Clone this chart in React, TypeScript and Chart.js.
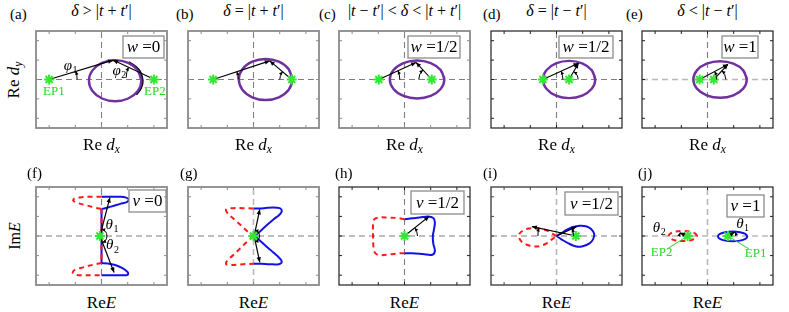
import React, { useEffect, useRef } from 'react';
import { Chart, registerables } from 'chart.js';

Chart.register(...registerables);

type P = [number, number];

// ---------------- shared axis data ----------------
const axisMin = -1.25;
const axisMax = 1.25;
const tickValues = [-1, -0.5, 0, 0.5, 1];

// ---------------- texts ----------------
const topLetters = ['(a)', '(b)', '(c)', '(d)', '(e)'];
const bottomLetters = ['(f)', '(g)', '(h)', '(i)', '(j)'];
const topTitles = ['δ > |t + t′|', 'δ = |t + t′|', '|t − t′| < δ < |t + t′|', 'δ = |t − t′|', 'δ < |t − t′|'];
const topTagSymbol = 'w';
const bottomTagSymbol = 'ν';
const topTagValues = ['0', '', '1/2', '1/2', '1'];
const bottomTagValues = ['0', '', '1/2', '1/2', '1'];

// ---------------- top row: Re d_x / Re d_y plane ----------------
const epLeft: P[] = [[-1, 0], [-0.77, 0], [-0.49, 0], [-0.26, 0], [-0.15, 0]];
const epRight: P[] = [[1, 0], [0.73, 0], [0.52, 0], [0.24, 0], [0.12, 0]];
const apexPts: P[] = [[0.22, 0.5], [0.31, 0.48], [0.22, 0.44], [0.42, 0.42], [0.39, 0.39]];
const rightArmStart: P[] = [[0.93, 0.05], [0.73, 0], [0.52, 0], [0.24, 0], [0.12, 0]];
const ellipseA: P[] = [[0.76, -0.03], [0.693, 0.235], [0.51, 0.429], [0.26, 0.5], [0.01, 0.429], [-0.173, 0.235], [-0.24, -0.03], [-0.173, -0.295], [0.01, -0.489], [0.26, -0.56], [0.51, -0.489], [0.693, -0.295]];
const ellipseB: P[] = [[0.74, 0], [0.672, 0.265], [0.485, 0.459], [0.23, 0.53], [-0.025, 0.459], [-0.212, 0.265], [-0.28, 0], [-0.212, -0.265], [-0.025, -0.459], [0.23, -0.53], [0.485, -0.459], [0.672, -0.265]];
const ellipseC: P[] = [[0.76, 0], [0.69, 0.245], [0.5, 0.424], [0.24, 0.49], [-0.02, 0.424], [-0.21, 0.245], [-0.28, 0], [-0.21, -0.245], [-0.02, -0.424], [0.24, -0.49], [0.5, -0.424], [0.69, -0.245]];
const ellipseD: P[] = [[0.74, 0], [0.673, 0.24], [0.49, 0.416], [0.24, 0.48], [-0.01, 0.416], [-0.193, 0.24], [-0.26, 0], [-0.193, -0.24], [-0.01, -0.416], [0.24, -0.48], [0.49, -0.416], [0.673, -0.24]];
const ellipseE: P[] = [[0.75, 0], [0.682, 0.235], [0.495, 0.407], [0.24, 0.47], [-0.015, 0.407], [-0.202, 0.235], [-0.27, 0], [-0.202, -0.235], [-0.015, -0.407], [0.24, -0.47], [0.495, -0.407], [0.682, -0.235]];
const trajectoryA: P[] = [[0.52, 0.446], [0.71, 0.245], [0.78, -0.03], [0.749, -0.218], [0.658, -0.384]];
const phiLabelsA: P[] = [[-0.59, 0.34], [0.34, 0.22]];
const epLabelsA: P[] = [[-0.91, -0.31], [1.02, -0.31]];

// ---------------- bottom row: Re E / Im E plane ----------------
const fBlueUpper: P[] = [[0, 1.0], [0.2, 1.0], [0.36, 1.0], [0.47, 0.98], [0.52, 0.93], [0.49, 0.87], [0.36, 0.82], [0.18, 0.75], [0.05, 0.7], [0, 0.69]];
const fBlueLower: P[] = [[0, -0.69], [0.12, -0.7], [0.26, -0.74], [0.4, -0.82], [0.5, -0.92], [0.5, -0.99], [0.35, -1.0], [0.15, -1.0], [0, -1.0]];
const fRedUpper: P[] = [[0, 1.0], [-0.2, 1.0], [-0.38, 0.99], [-0.52, 0.95], [-0.54, 0.9], [-0.45, 0.84], [-0.28, 0.78], [-0.12, 0.72], [0, 0.69]];
const fRedLower: P[] = [[0, -0.69], [-0.15, -0.73], [-0.35, -0.8], [-0.5, -0.86], [-0.55, -0.93], [-0.5, -0.99], [-0.3, -1.0], [-0.12, -1.0], [0, -1.0]];
const fStem: P[] = [[0, 0.69], [0, -0.69]];
const fEP: P[] = [[-0.03, 0]];
const fArrowTips: P[] = [[0.16, 0.98], [0.24, -0.93]];
const fThetaLabels: P[] = [[0.2, 0.28], [0.21, -0.24]];

const gBlueUpper: P[] = [[0, 0.7], [0.2, 0.71], [0.38, 0.73], [0.5, 0.71], [0.54, 0.64], [0.5, 0.55], [0.38, 0.42], [0.24, 0.26], [0.1, 0.09], [0.02, 0]];
const gBlueLower: P[] = [[0.02, 0], [0.1, -0.09], [0.24, -0.26], [0.38, -0.42], [0.5, -0.57], [0.54, -0.66], [0.48, -0.72], [0.3, -0.72], [0.15, -0.71], [0, -0.71]];
const gRedUpper: P[] = [[0, 0.7], [-0.2, 0.71], [-0.4, 0.71], [-0.52, 0.68], [-0.5, 0.59], [-0.38, 0.44], [-0.22, 0.25], [-0.1, 0.1], [0, 0]];
const gRedLower: P[] = [[0, 0], [-0.1, -0.12], [-0.24, -0.3], [-0.38, -0.48], [-0.5, -0.63], [-0.52, -0.72], [-0.42, -0.74], [-0.2, -0.72], [0, -0.71]];
const gEP: P[] = [[0, 0]];
const gArrowBases: P[] = [[0.02, 0.05], [0.02, -0.05]];
const gArrowTips: P[] = [[0.12, 0.68], [0.12, -0.67]];

const hBlue: P[] = [[0, 0.43], [0.15, 0.45], [0.29, 0.47], [0.45, 0.5], [0.55, 0.46], [0.58, 0.35], [0.56, 0.15], [0.54, 0], [0.55, -0.2], [0.58, -0.38], [0.53, -0.48], [0.35, -0.46], [0.15, -0.44], [0, -0.44]];
const hRed: P[] = [[0, 0.43], [-0.15, 0.46], [-0.32, 0.47], [-0.5, 0.47], [-0.58, 0.42], [-0.6, 0.29], [-0.6, 0.0], [-0.59, -0.3], [-0.55, -0.45], [-0.45, -0.49], [-0.28, -0.47], [-0.1, -0.44], [0, -0.44]];
const hEP: P[] = [[0, 0]];
const hArrowTip: P = [0.47, 0.5];

const iBlue: P[] = [[0, 0], [0.1, 0.08], [0.2, 0.16], [0.32, 0.23], [0.44, 0.26], [0.56, 0.25], [0.66, 0.18], [0.72, 0.05], [0.7, -0.08], [0.63, -0.19], [0.5, -0.26], [0.38, -0.27], [0.23, -0.19], [0.1, -0.09], [0, 0]];
const iRed: P[] = [[0, 0], [-0.08, 0.06], [-0.17, 0.13], [-0.28, 0.18], [-0.4, 0.2], [-0.53, 0.19], [-0.64, 0.14], [-0.71, 0.05], [-0.72, -0.03], [-0.66, -0.15], [-0.55, -0.23], [-0.43, -0.27], [-0.3, -0.25], [-0.18, -0.18], [-0.08, -0.08], [0, 0]];
const iEP: P[] = [[0.37, 0]];
const iArrowBases: P[] = [[0.37, 0], [0, 0]];
const iArrowTips: P[] = [[-0.47, 0.24], [0.38, 0.24]];

const jBlue: P[] = [[0.76, -0.01], [0.722, 0.053], [0.62, 0.098], [0.48, 0.115], [0.34, 0.098], [0.238, 0.053], [0.2, -0.01], [0.238, -0.073], [0.34, -0.118], [0.48, -0.135], [0.62, -0.118], [0.722, -0.073]];
const jRed: P[] = [[-0.2, 0], [-0.236, 0.065], [-0.335, 0.113], [-0.47, 0.13], [-0.605, 0.113], [-0.704, 0.065], [-0.74, 0], [-0.704, -0.065], [-0.605, -0.113], [-0.47, -0.13], [-0.335, -0.113], [-0.236, -0.065]];
const jEPs: P[] = [[0.39, 0], [-0.38, 0]];
const jArrowTips: P[] = [[0.52, 0.1], [-0.53, 0.08]];
const jPointerEnds: P[] = [[0.79, -0.33], [-0.77, -0.33]];
const jThetaLabels: P[] = [[0.67, 0.3], [-0.92, 0.2]];
const jEpLabels: P[] = [[0.92, -0.46], [-0.875, -0.42]];

// ---------------- styles / layout ----------------
const serif = '"Liberation Serif", "DejaVu Serif", "Times New Roman", serif';
const PURPLE = '#7030a0';
const BLUE = '#1212e6';
const RED = '#ff1a1a';
const GREEN = '#33e833';
const GRAY = '#7f7f7f';
const LIGHT = '#b9b9b9';
const FRAME_GRAY = '#8a8a8a';
const FRAME_DARK = '#202020';

const boxLefts = [32, 184, 335, 487, 638];
const boxW = 139;
const topRowY = 27;
const topRowH = 105;
const bottomRowY = 183;
const bottomRowH = 106;
const PAD = 3;

interface Series { pts: P[]; color: string; width: number; dash?: number[]; tension?: number; arrow?: boolean; star?: boolean }
interface Note { at: P; text: string; sub?: string; color?: string; size?: number; upright?: boolean }
interface AngleMark { c: P; ref: number; to: P; r: number }
interface Tag { sym: string; value: string; right: number; top: number; w: number; h: number }
interface PanelCfg {
  left: number; top: number; w: number; h: number;
  frame: string; frameW: number;
  zeroH: string; zeroV: string; zeroHW: number; zeroVW: number;
  series: Series[]; notes: Note[]; angles: AngleMark[]; tag?: Tag;
}

const loop = (pts: P[]): P[] => [...pts, pts[0], pts[1]];

const topEllipses = [ellipseA, ellipseB, ellipseC, ellipseD, ellipseE];
const phiRadii: [number, number][] = [[28, 24], [25, 12], [21, 13], [20, 9], [17, 12]];
const phiRef2 = [180, 180, 180, 0, 0];
const topFrames = [FRAME_GRAY, FRAME_GRAY, FRAME_GRAY, FRAME_DARK, FRAME_DARK];
const topZeroH = [GRAY, GRAY, GRAY, GRAY, LIGHT];
const topTagGeom = [
  { right: 3, top: 5, w: 41, h: 22 }, null,
  { right: 10, top: 5, w: 52, h: 22 },
  { right: 9, top: 5, w: 54, h: 22 },
  { right: 15, top: 5, w: 36, h: 22 },
];

const topPanels: PanelCfg[] = topEllipses.map((ell, i) => {
  const series: Series[] = [];
  if (i === 0) series.push({ pts: trajectoryA, color: '#000', width: 2.6, tension: 0.4 });
  series.push({ pts: loop(ell), color: PURPLE, width: 2.4, tension: 0.4 });
  series.push({ pts: [epLeft[i], apexPts[i]], color: '#000', width: 1.1, arrow: true });
  series.push({ pts: [rightArmStart[i], apexPts[i]], color: '#000', width: 1.1, arrow: true });
  series.push({ pts: [epLeft[i], epRight[i]], color: GREEN, width: 2, star: true });
  const notes: Note[] = [];
  if (i === 0) {
    notes.push({ at: phiLabelsA[0], text: 'φ', sub: '1', size: 15 });
    notes.push({ at: phiLabelsA[1], text: 'φ', sub: '2', size: 15 });
    notes.push({ at: epLabelsA[0], text: 'EP1', color: '#22d822', size: 13, upright: true });
    notes.push({ at: epLabelsA[1], text: 'EP2', color: '#22d822', size: 13, upright: true });
  }
  const g = topTagGeom[i];
  return {
    left: boxLefts[i], top: topRowY, w: boxW, h: topRowH,
    frame: topFrames[i], frameW: i < 3 ? 1.8 : 1.2,
    zeroH: topZeroH[i], zeroV: GRAY, zeroHW: topZeroH[i] === LIGHT ? 1.6 : 1.1, zeroVW: 1.1,
    series, notes,
    angles: [
      { c: epLeft[i], ref: 0, to: apexPts[i], r: phiRadii[i][0] },
      { c: rightArmStart[i], ref: phiRef2[i], to: apexPts[i], r: phiRadii[i][1] },
    ],
    tag: g ? { sym: topTagSymbol, value: topTagValues[i], ...g } : undefined,
  };
});

const blueS = (pts: P[], tension = 0.35): Series => ({ pts, color: BLUE, width: 2, tension });
const redS = (pts: P[], tension = 0.35): Series => ({ pts, color: RED, width: 2, dash: [5, 4], tension });
const arrowS = (a: P, b: P): Series => ({ pts: [a, b], color: '#000', width: 1.2, arrow: true });
const starS = (pts: P[]): Series => ({ pts, color: GREEN, width: 2, star: true });

const bottomPanels: PanelCfg[] = [
  {
    left: boxLefts[0], top: bottomRowY, w: boxW, h: bottomRowH, frame: FRAME_GRAY, frameW: 1.8,
    zeroH: GRAY, zeroV: GRAY, zeroHW: 1.1, zeroVW: 1.1,
    series: [blueS(fBlueUpper), blueS(fBlueLower), blueS(fStem, 0), redS(fRedUpper), redS(fRedLower), redS(fStem, 0),
      arrowS(fEP[0], fArrowTips[0]), arrowS(fEP[0], fArrowTips[1]), starS(fEP)],
    notes: [{ at: fThetaLabels[0], text: 'θ', sub: '1' }, { at: fThetaLabels[1], text: 'θ', sub: '2' }],
    angles: [{ c: fEP[0], ref: 0, to: fArrowTips[0], r: 7 }, { c: fEP[0], ref: 0, to: fArrowTips[1], r: 7 }],
    tag: { sym: bottomTagSymbol, value: bottomTagValues[0], right: 1, top: 3, w: 37, h: 22 },
  },
  {
    left: boxLefts[1], top: bottomRowY, w: boxW, h: bottomRowH, frame: FRAME_GRAY, frameW: 1.8,
    zeroH: GRAY, zeroV: LIGHT, zeroHW: 1.1, zeroVW: 1.6,
    series: [blueS(gBlueUpper), blueS(gBlueLower), redS(gRedUpper), redS(gRedLower),
      arrowS(gArrowBases[0], gArrowTips[0]), arrowS(gArrowBases[1], gArrowTips[1]), starS(gEP)],
    notes: [],
    angles: [{ c: gEP[0], ref: 0, to: gArrowTips[0], r: 6 }, { c: gEP[0], ref: 0, to: gArrowTips[1], r: 6 }],
  },
  {
    left: boxLefts[2], top: bottomRowY, w: boxW, h: bottomRowH, frame: FRAME_DARK, frameW: 1.2,
    zeroH: GRAY, zeroV: GRAY, zeroHW: 1.1, zeroVW: 1.1,
    series: [blueS(hBlue), redS(hRed), arrowS(hEP[0], hArrowTip), starS(hEP)],
    notes: [],
    angles: [{ c: hEP[0], ref: 0, to: hArrowTip, r: 13 }],
    tag: { sym: bottomTagSymbol, value: bottomTagValues[2], right: 6, top: 4, w: 53, h: 23 },
  },
  {
    left: boxLefts[3], top: bottomRowY, w: boxW, h: bottomRowH, frame: '#444', frameW: 1.4,
    zeroH: GRAY, zeroV: LIGHT, zeroHW: 1.1, zeroVW: 1.6,
    series: [blueS(iBlue), redS(iRed), arrowS(iArrowBases[0], iArrowTips[0]), arrowS(iArrowBases[1], iArrowTips[1]), starS(iEP)],
    notes: [],
    angles: [{ c: iArrowBases[0], ref: 180, to: iArrowTips[0], r: 38 }, { c: iArrowBases[1], ref: 0, to: iArrowTips[1], r: 17 }],
    tag: { sym: bottomTagSymbol, value: bottomTagValues[3], right: 4, top: 5, w: 53, h: 23 },
  },
  {
    left: boxLefts[4], top: bottomRowY, w: boxW, h: bottomRowH, frame: FRAME_DARK, frameW: 1.2,
    zeroH: LIGHT, zeroV: LIGHT, zeroHW: 1.6, zeroVW: 1.6,
    series: [blueS(loop(jBlue), 0.4), redS(loop(jRed), 0.4),
      { pts: [jPointerEnds[0], jEPs[0]], color: '#2ccf2c', width: 1 },
      { pts: [jPointerEnds[1], jEPs[1]], color: '#2ccf2c', width: 1 },
      arrowS(jEPs[0], jArrowTips[0]), arrowS(jEPs[1], jArrowTips[1]), starS(jEPs)],
    notes: [
      { at: jThetaLabels[0], text: 'θ', sub: '1' }, { at: jThetaLabels[1], text: 'θ', sub: '2' },
      { at: jEpLabels[0], text: 'EP1', color: '#22d822', size: 13, upright: true },
      { at: jEpLabels[1], text: 'EP2', color: '#22d822', size: 13, upright: true },
    ],
    angles: [{ c: jEPs[0], ref: 0, to: jArrowTips[0], r: 8 }, { c: jEPs[1], ref: 180, to: jArrowTips[1], r: 8 }],
    tag: { sym: bottomTagSymbol, value: bottomTagValues[4], right: 9, top: 8, w: 37, h: 22 },
  },
];

const allPanels = [...topPanels, ...bottomPanels];

// ---------------- drawing helpers ----------------
function head(ctx: CanvasRenderingContext2D, x: number, y: number, ang: number, len: number, half: number, color: string) {
  ctx.save();
  ctx.translate(x, y);
  ctx.rotate(ang);
  ctx.beginPath();
  ctx.moveTo(0, 0);
  ctx.lineTo(-len, half);
  ctx.lineTo(-len, -half);
  ctx.closePath();
  ctx.fillStyle = color;
  ctx.fill();
  ctx.restore();
}

function makePlugin(cfg: PanelCfg) {
  return {
    id: 'panelDecor',
    afterDatasetsDraw(chart: any) {
      const ctx: CanvasRenderingContext2D = chart.ctx;
      const xs = chart.scales.x;
      const ys = chart.scales.y;
      const px = (p: P): P => [xs.getPixelForValue(p[0]), ys.getPixelForValue(p[1])];
      ctx.save();
      // arrow heads
      chart.data.datasets.forEach((d: any) => {
        if (!d.arrowHead) return;
        const n = d.data.length;
        const [x1, y1] = px([d.data[n - 2].x, d.data[n - 2].y]);
        const [x2, y2] = px([d.data[n - 1].x, d.data[n - 1].y]);
        head(ctx, x2, y2, Math.atan2(y2 - y1, x2 - x1), 5, 2.2, d.borderColor);
      });
      // angle arcs
      cfg.angles.forEach((m) => {
        const [cx, cy] = px(m.c);
        const [tx, ty] = px(m.to);
        const t = Math.atan2(ty - cy, tx - cx);
        const r0 = (m.ref * Math.PI) / 180;
        let diff = t - r0;
        while (diff > Math.PI) diff -= 2 * Math.PI;
        while (diff < -Math.PI) diff += 2 * Math.PI;
        const end = r0 + diff;
        ctx.beginPath();
        ctx.strokeStyle = '#000';
        ctx.lineWidth = 1;
        ctx.setLineDash([]);
        ctx.arc(cx, cy, m.r, r0, end, diff < 0);
        ctx.stroke();
        const hx = cx + m.r * Math.cos(end);
        const hy = cy + m.r * Math.sin(end);
        const tang = end + (diff > 0 ? Math.PI / 2 : -Math.PI / 2);
        head(ctx, hx, hy, tang, 3.5, 1.8, '#000');
      });
      // notes
      cfg.notes.forEach((n) => {
        const [x, y] = px(n.at);
        const size = n.size || 15;
        const mainFont = `${n.upright ? '' : 'italic '}${size}px ${serif}`;
        const subFont = `${Math.round(size * 0.68)}px ${serif}`;
        ctx.font = mainFont;
        const w1 = ctx.measureText(n.text).width;
        let w2 = 0;
        if (n.sub) { ctx.font = subFont; w2 = ctx.measureText(n.sub).width + 0.5; }
        const x0 = x - (w1 + w2) / 2;
        ctx.fillStyle = n.color || '#000';
        ctx.textBaseline = 'middle';
        ctx.textAlign = 'left';
        ctx.font = mainFont;
        ctx.fillText(n.text, x0, y);
        if (n.sub) { ctx.font = subFont; ctx.fillText(n.sub, x0 + w1 + 0.5, y + size * 0.3); }
      });
      // tag box
      if (cfg.tag) {
        const ca = chart.chartArea;
        const g = cfg.tag;
        const bx = ca.right - g.right - g.w;
        const by = ca.top + g.top;
        ctx.fillStyle = '#fff';
        ctx.fillRect(bx, by, g.w, g.h);
        ctx.strokeStyle = '#8c8c8c';
        ctx.lineWidth = 1.3;
        ctx.strokeRect(bx, by, g.w, g.h);
        const f1 = `italic 17px ${serif}`;
        const f2 = `17px ${serif}`;
        const rest = ' =' + g.value;
        ctx.font = f1;
        const a = ctx.measureText(g.sym).width;
        ctx.font = f2;
        const b = ctx.measureText(rest).width;
        const sx = bx + (g.w - a - b) / 2;
        const sy = by + g.h / 2 + 1;
        ctx.fillStyle = '#000';
        ctx.textBaseline = 'middle';
        ctx.textAlign = 'left';
        ctx.font = f1;
        ctx.fillText(g.sym, sx, sy);
        ctx.font = f2;
        ctx.fillText(rest, sx + a, sy);
      }
      ctx.restore();
    },
    afterDraw(chart: any) {
      const ctx: CanvasRenderingContext2D = chart.ctx;
      const ca = chart.chartArea;
      const xs = chart.scales.x;
      const ys = chart.scales.y;
      ctx.save();
      ctx.strokeStyle = cfg.frame;
      ctx.lineWidth = cfg.frameW;
      ctx.setLineDash([]);
      ctx.strokeRect(ca.left, ca.top, ca.right - ca.left, ca.bottom - ca.top);
      ctx.lineWidth = 1;
      const L = 3;
      ctx.beginPath();
      tickValues.forEach((v) => {
        const x = xs.getPixelForValue(v);
        const y = ys.getPixelForValue(v);
        ctx.moveTo(x, ca.bottom); ctx.lineTo(x, ca.bottom - L);
        ctx.moveTo(x, ca.top); ctx.lineTo(x, ca.top + L);
        ctx.moveTo(ca.left, y); ctx.lineTo(ca.left + L, y);
        ctx.moveTo(ca.right, y); ctx.lineTo(ca.right - L, y);
      });
      ctx.stroke();
      ctx.restore();
    },
  };
}

function PanelChart({ cfg }: { cfg: PanelCfg }) {
  const ref = useRef<HTMLCanvasElement | null>(null);
  useEffect(() => {
    const canvas = ref.current;
    if (!canvas) return;
    const all: any[] = [];
    all.push({ data: [{ x: axisMin, y: 0 }, { x: axisMax, y: 0 }], borderColor: cfg.zeroH, borderWidth: cfg.zeroHW, borderDash: [6, 4] });
    all.push({ data: [{ x: 0, y: axisMin }, { x: 0, y: axisMax }], borderColor: cfg.zeroV, borderWidth: cfg.zeroVW, borderDash: [6, 4] });
    cfg.series.forEach((s) => all.push({
      data: s.pts.map(([x, y]) => ({ x, y })),
      borderColor: s.color,
      backgroundColor: s.color,
      borderWidth: s.width,
      borderDash: s.dash || [],
      tension: s.tension || 0,
      showLine: !s.star,
      pointRadius: s.star ? 5 : 0,
      pointStyle: s.star ? 'star' : 'circle',
      pointBorderColor: s.color,
      pointBorderWidth: s.star ? 2 : 0,
      arrowHead: !!s.arrow,
    }));
    const datasets = all.map((d, i) => ({ showLine: true, pointRadius: 0, clip: 1, ...d, order: all.length - i }));
    const chart = new Chart(canvas, {
      type: 'scatter',
      data: { datasets },
      options: {
        animation: false,
        responsive: false,
        devicePixelRatio: 1,
        events: [],
        layout: { padding: PAD },
        scales: {
          x: { type: 'linear', min: axisMin, max: axisMax, display: false },
          y: { type: 'linear', min: axisMin, max: axisMax, display: false },
        },
        plugins: { legend: { display: false }, tooltip: { enabled: false }, title: { display: false } },
      },
      plugins: [makePlugin(cfg)],
    } as any);
    return () => chart.destroy();
  }, [cfg]);
  return (
    <canvas
      ref={ref}
      width={cfg.w + 2 * PAD}
      height={cfg.h + 2 * PAD}
      style={{ position: 'absolute', left: cfg.left - PAD, top: cfg.top - PAD, width: cfg.w + 2 * PAD, height: cfg.h + 2 * PAD }}
    />
  );
}

function mathText(s: string) {
  return s.split('').map((ch, i) => (/[a-zδ]/.test(ch) ? <i key={i}>{ch}</i> : <span key={i}>{ch}</span>));
}

function Txt({ x, y, size, children, rotate, left }: any) {
  return (
    <div
      style={{
        position: 'absolute', left: x, top: y, fontSize: size, lineHeight: 1, whiteSpace: 'nowrap',
        transform: `translate(${left ? '0' : '-50%'}, -50%)${rotate ? ' rotate(-90deg)' : ''}`,
      }}
    >
      {children}
    </div>
  );
}

const topLetterX = [10, 176, 319, 483, 626];
const bottomLetterX = [27, 180, 335, 483, 638];

export default function App() {
  useEffect(() => {
    document.body.style.margin = '0';
  }, []);
  const sub = { fontSize: '0.68em', fontStyle: 'italic', verticalAlign: '-0.3em' } as any;
  return (
    <div style={{ position: 'fixed', left: 0, top: 0, width: 789, height: 312, background: '#fff', fontFamily: serif, color: '#000', overflow: 'hidden' }}>
      {allPanels.map((p, i) => <PanelChart key={i} cfg={p} />)}
      {topLetters.map((t, i) => <Txt key={'tl' + i} x={topLetterX[i]} y={14} size={15} left>{t}</Txt>)}
      {bottomLetters.map((t, i) => <Txt key={'bl' + i} x={bottomLetterX[i]} y={173} size={15} left>{t}</Txt>)}
      {topTitles.map((t, i) => <Txt key={'tt' + i} x={boxLefts[i] + boxW / 2} y={11} size={16}>{mathText(t)}</Txt>)}
      {boxLefts.map((l, i) => (
        <Txt key={'xa' + i} x={l + boxW / 2} y={146} size={17}>
          <span>Re </span><i>d</i><span style={sub}>x</span>
        </Txt>
      ))}
      {boxLefts.map((l, i) => (
        <Txt key={'xb' + i} x={l + boxW / 2} y={302} size={17}>
          <span>Re</span><i>E</i>
        </Txt>
      ))}
      <Txt x={15} y={topRowY + topRowH / 2} size={17} rotate>
        <span>Re </span><i>d</i><span style={sub}>y</span>
      </Txt>
      <Txt x={15} y={bottomRowY + bottomRowH / 2} size={16} rotate>
        <span>Im</span><i>E</i>
      </Txt>
    </div>
  );
}
